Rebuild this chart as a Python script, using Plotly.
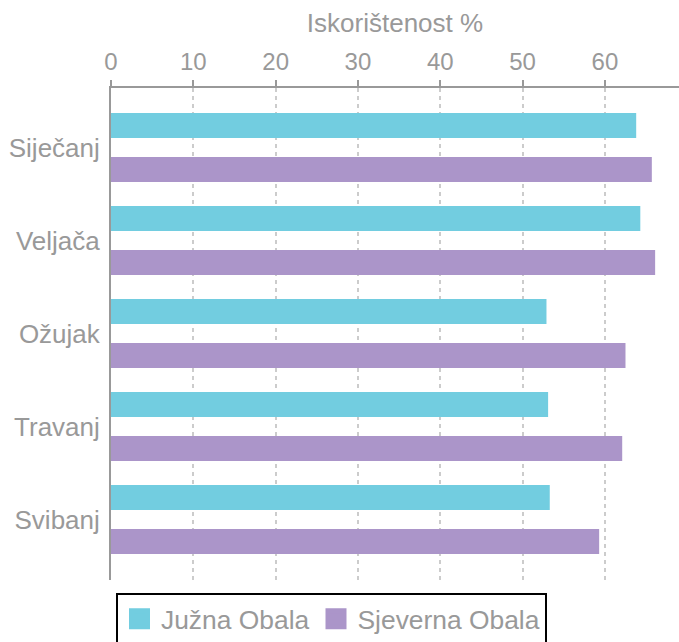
import plotly.graph_objects as go

months = ["Siječanj", "Veljača", "Ožujak", "Travanj", "Svibanj"]
juzna = [63.8, 64.3, 52.9, 53.1, 53.3]
sjeverna = [65.7, 66.1, 62.5, 62.1, 59.3]
series_names = ["Južna Obala", "Sjeverna Obala"]
colors = ["#72CDE0", "#AB95C9"]
x_ticks = [0, 10, 20, 30, 40, 50, 60]

gray = "#999999"
font_family = "Liberation Sans, Arial, sans-serif"

fig = go.Figure()
for vals, name, col in zip([juzna, sjeverna], series_names, colors):
    fig.add_trace(go.Bar(y=months, x=vals, name=name, orientation="h", showlegend=False,
                         marker=dict(color=col, line=dict(width=0))))
# legend swatches
for name, col in zip(series_names, colors):
    fig.add_trace(go.Scatter(x=[None], y=[None], mode="markers", name=name,
                             marker=dict(symbol="square", size=16, color=col,
                                         line=dict(width=5, color=col))))

fig.update_layout(
    width=679, height=642,
    margin=dict(l=111, r=0, t=88, b=62, autoexpand=False),
    paper_bgcolor="white", plot_bgcolor="white",
    font=dict(family=font_family, size=26, color=gray),
    barmode="group", bargap=0.054, bargroupgap=0.43,
    showlegend=True,
    legend=dict(orientation="h", x=116 / 679, xanchor="left", xref="container",
                y=1 - 593 / 642, yref="container", yanchor="top",
                bordercolor="black", borderwidth=2, font=dict(size=26.4, color=gray),
                itemsizing="trace", traceorder="normal", itemwidth=33),
    xaxis=dict(side="top", range=[0, 69], tickvals=x_ticks, automargin=False,
               title=dict(text="Iskorištenost %", font=dict(size=26, color=gray), standoff=8),
               showline=True, linecolor=gray, linewidth=2,
               ticks="outside", ticklen=6, tickcolor=gray, tickwidth=2,
               showgrid=True, gridcolor="#cccccc", gridwidth=1.5, griddash="4px,4px",
               zeroline=False, tickfont=dict(size=24, color=gray)),
    yaxis=dict(categoryorder="array", categoryarray=months, range=[4.65, -0.64],
               automargin=False,
               showline=True, linecolor=gray, linewidth=2, ticks="", showgrid=False,
               ticklabelstandoff=4,
               tickfont=dict(size=26, color=gray)),
)

fig.write_html("out.html", config={"displayModeBar": False},
               post_script="document.body.style.margin='0px';")
